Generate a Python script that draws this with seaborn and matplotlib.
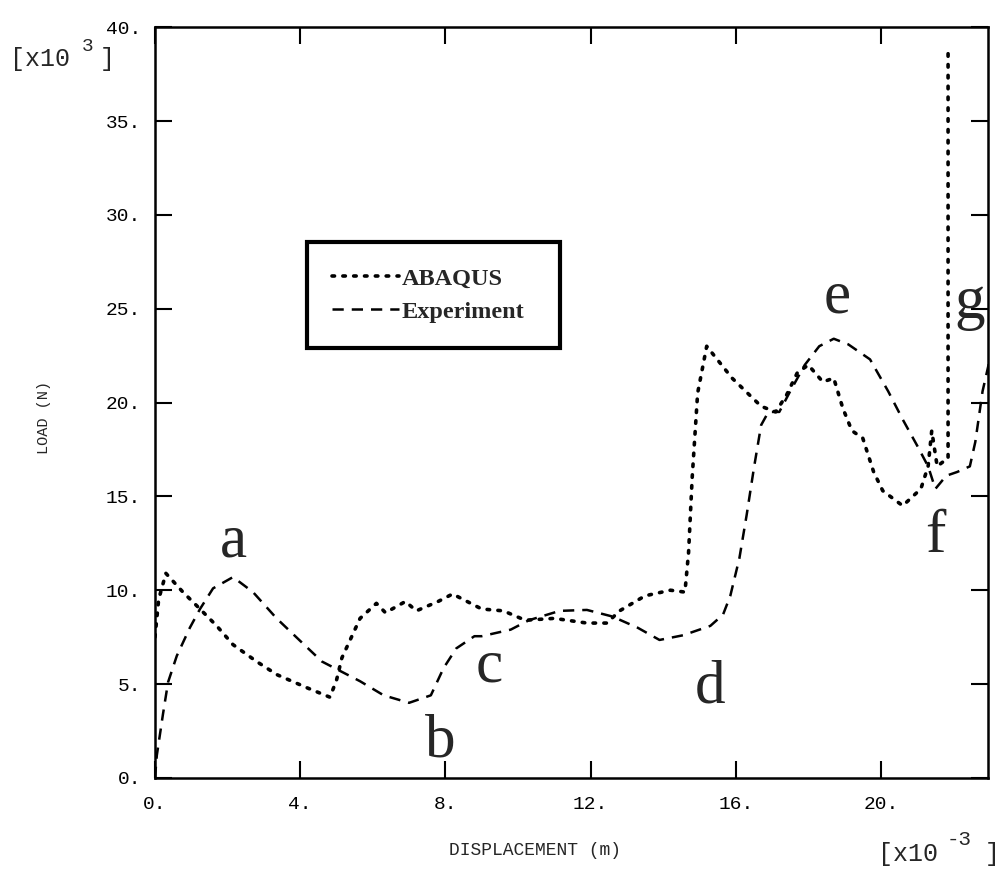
"""
Load-displacement curve: ABAQUS vs experiment, redrawn from a scanned figure.
"""

import pandas as pd
import matplotlib
matplotlib.use("Agg")
import matplotlib.pyplot as plt
import seaborn as sns

# ABAQUS (dotted) -- displacement [x1e-3 m], load [x1e3 N]
abaqus_x = [0.0, 0.1, 0.3, 0.77, 1.24, 1.7, 2.15, 2.8, 3.36, 4.19, 4.82, 5.0, 5.15,
            5.65, 6.1, 6.35, 6.9, 7.2, 7.8, 8.2, 9.0, 9.6, 10.2, 11.0, 11.9, 12.45,
            12.8, 13.5, 14.2, 14.6, 14.7, 14.8, 14.95, 15.2, 15.9, 16.7, 17.1, 17.4,
            17.7, 18.0, 18.4, 18.7, 18.95, 19.2, 19.5, 19.8, 20.05, 20.6, 21.1, 21.3,
            21.4, 21.55, 21.75, 21.85, 21.85]
abaqus_y = [7.5, 9.5, 10.9, 9.9, 9.0, 8.1, 7.1, 6.2, 5.5, 4.8, 4.3, 5.2, 6.4,
            8.5, 9.3, 8.8, 9.4, 8.9, 9.4, 9.8, 9.0, 8.9, 8.4, 8.5, 8.25, 8.25,
            8.9, 9.7, 10.0, 9.9, 12.0, 16.0, 20.5, 23.0, 21.3, 19.8, 19.5, 20.4,
            21.6, 22.0, 21.1, 21.3, 19.7, 18.5, 18.1, 16.3, 15.3, 14.5, 15.4, 16.6,
            18.5, 16.6, 16.9, 17.0, 39.0]

# Experiment (dashed)
exp_x = [0.0, 0.05, 0.22, 0.36, 0.6, 0.96, 1.24, 1.6, 2.15, 2.7, 3.35, 4.0, 4.6,
         5.1, 5.65, 6.3, 7.0, 7.6, 7.95, 8.3, 8.8, 9.0, 9.8, 10.3, 11.15, 11.9,
         12.6, 13.3, 13.9, 14.55, 15.3, 15.65, 15.85, 16.1, 16.3, 16.5, 16.7, 16.9,
         17.2, 17.5, 17.9, 18.3, 18.7, 19.1, 19.7, 20.2, 20.6, 21.0, 21.3, 21.5,
         21.8, 22.1, 22.45, 22.6, 22.8, 23.0]
exp_y = [0.0, 1.2, 3.4, 5.1, 6.5, 8.0, 9.0, 10.1, 10.7, 9.9, 8.5, 7.3, 6.2,
         5.7, 5.15, 4.4, 4.0, 4.4, 5.85, 6.9, 7.55, 7.55, 7.9, 8.4, 8.9, 8.95,
         8.6, 8.0, 7.35, 7.6, 8.1, 8.7, 9.7, 11.7, 14.0, 16.5, 18.8, 19.5,
         19.5, 20.6, 22.0, 23.0, 23.4, 23.1, 22.3, 20.6, 19.1, 17.7, 16.6, 15.4,
         16.1, 16.3, 16.6, 17.9, 20.6, 22.3]

# point labels on the curves
point_names = ["a", "b", "c", "d", "e", "f", "g"]
point_x = [2.15, 7.85, 9.2, 15.3, 18.8, 21.5, 22.45]
point_y = [12.6, 1.9, 5.9, 4.8, 25.6, 12.8, 25.3]

x_ticks = [0, 4, 8, 12, 16, 20]
y_ticks = [0, 5, 10, 15, 20, 25, 30, 35, 40]

sns.set_style("ticks")
plt.rcParams["font.family"] = ["Liberation Mono", "DejaVu Sans"]

abaqus = pd.DataFrame({"x": abaqus_x, "y": abaqus_y})
exper = pd.DataFrame({"x": exp_x, "y": exp_y})

fig = plt.figure(figsize=(10, 8.77), dpi=100)
ax = fig.add_axes([0.155, 0.113, 0.833, 0.856])

sns.lineplot(data=abaqus, x="x", y="y", ax=ax, color="black", lw=2.6,
             linestyle=(0, (0.7, 2.3)), dash_capstyle="round",
             sort=False, estimator=None, label="ABAQUS")
sns.lineplot(data=exper, x="x", y="y", ax=ax, color="black", lw=1.8,
             linestyle=(0, (4.5, 3.2)),
             sort=False, estimator=None, label="Experiment")

ax.set_xlim(0, 22.95)
ax.set_ylim(0, 40)
ax.set_xticks(x_ticks)
ax.set_yticks(y_ticks)
ax.set_xticklabels([f"{v}." for v in x_ticks])
ax.set_yticklabels([f"{v}." for v in y_ticks])
ax.tick_params(direction="in", length=12, width=1.5, top=True, right=True,
               labelsize=14, colors="black")
ax.tick_params(axis="x", pad=13)
ax.tick_params(axis="y", pad=10)
for sp in ax.spines.values():
    sp.set_linewidth(1.8)
    sp.set_color("black")

ax.set_xlabel("DISPLACEMENT (m)", fontsize=13)
ax.xaxis.set_label_coords(0.456, -0.085)
ax.set_ylabel("LOAD (N)", fontsize=11)
ax.yaxis.set_label_coords(-0.125, 0.48)

for name, px, py in zip(point_names, point_x, point_y):
    ax.text(px, py, name, fontsize=44, family="Liberation Serif",
            ha="center", va="center")

leg = ax.legend(loc="center", bbox_to_anchor=(0.182, 0.570, 0.304, 0.146),
                mode="expand", borderaxespad=0, fancybox=False,
                edgecolor="black", framealpha=1,
                borderpad=1.05, handlelength=2.75, handletextpad=0.1,
                labelspacing=0.45,
                prop={"family": "Liberation Serif", "weight": "bold", "size": 17.5})
leg.get_frame().set_linewidth(3)

# multiplier notes
fig.text(0.010, 0.925, "[x10", fontsize=18)
fig.text(0.082, 0.942, "3", fontsize=14)
fig.text(0.100, 0.925, "]", fontsize=18)
fig.text(0.878, 0.018, "[x10", fontsize=18)
fig.text(0.947, 0.036, "-3", fontsize=15)
fig.text(0.985, 0.018, "]", fontsize=18)

fig.savefig("out.png", dpi=100)
plt.close(fig)
